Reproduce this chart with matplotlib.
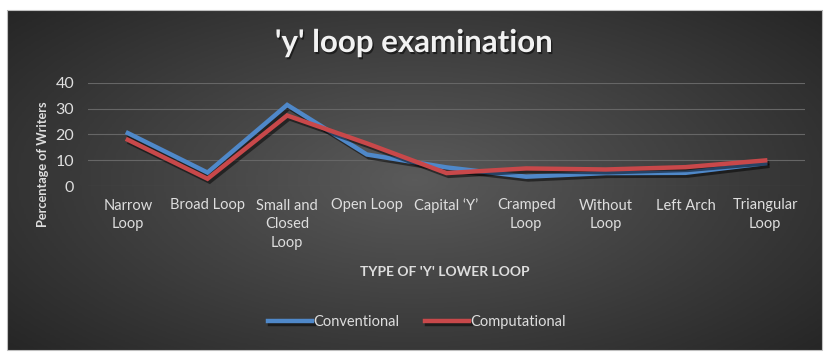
import numpy as np
import matplotlib
matplotlib.use("Agg")
import matplotlib.pyplot as plt
import matplotlib.patheffects as pe
from matplotlib.patches import Rectangle

plt.rcParams["font.family"] = ["Lato", "DejaVu Sans"]

# %% data
categories = ["Narrow\nLoop", "Broad Loop", "Small and\nClosed\nLoop", "Open Loop",
              "Capital \u2018Y\u2019", "Cramped\nLoop", "Without\nLoop", "Left Arch",
              "Triangular\nLoop"]
conventional = [20.5, 5.2, 31.4, 12.2, 7.2, 3.6, 5.0, 5.1, 8.8]
computational = [17.9, 2.8, 27.3, 16.5, 5.0, 6.8, 6.4, 7.3, 9.9]
yticks = [0, 10, 20, 30, 40]

blue = "#4f88c9"
red = "#c8484a"
txt = "#dedede"

# %% figure
fig = plt.figure(figsize=(8.3, 3.62), dpi=100, facecolor="white")

# dark panel with radial gradient
bg = fig.add_axes([7 / 830, 12 / 362, 815 / 830, 340 / 362])
yy, xx = np.mgrid[-1:1:200j, -1:1:400j]
r = np.sqrt((xx * 0.85) ** 2 + (yy * 0.75) ** 2)
bg.imshow(r, cmap=matplotlib.colors.LinearSegmentedColormap.from_list(
    "g", ["#5a5a5a", "#404040", "#262626"]), aspect="auto", extent=[0, 1, 0, 1])
bg.set_axis_off()
fig.patches.append(Rectangle((7 / 830, 12 / 362), 815 / 830, 340 / 362,
                             transform=fig.transFigure, fill=False,
                             ec="#bfbfbf", lw=0.8))

ax = fig.add_axes([88 / 830, (362 - 186) / 362, 717 / 830, 103.3 / 362])
ax.patch.set_alpha(0)
x = np.arange(len(categories))
ax.plot(x, conventional, color=blue, lw=3.2, solid_joinstyle="miter", label="Conventional",
        path_effects=[pe.SimpleLineShadow(offset=(1.5, -2), shadow_color="black", alpha=0.5), pe.Normal()])
ax.plot(x, computational, color=red, lw=3.2, solid_joinstyle="miter", label="Computational",
        path_effects=[pe.SimpleLineShadow(offset=(1.5, -2), shadow_color="black", alpha=0.5), pe.Normal()])

ax.set_xlim(-0.5, len(categories) - 0.5)
ax.set_ylim(0, 40)
ax.set_yticks(yticks)
ax.set_yticklabels([str(v) for v in yticks], color=txt, fontsize=11.5)
ax.set_xticks(x)
ax.set_xticklabels(categories, color=txt, fontsize=10.5, linespacing=1.45)
ax.tick_params(length=0, axis="y", pad=10)
ax.tick_params(length=0, axis="x", pad=9)
ax.grid(axis="y", color="#666666", lw=0.8)
ax.set_axisbelow(True)
for s in ax.spines.values():
    s.set_visible(False)

fig.text(43 / 830, 1 - 164 / 362, "Percentage of Writers", color=txt, fontsize=9.2,
         fontweight="bold", rotation=90, ha="center", va="center")
fig.text(445 / 830, 1 - 272 / 362, "TYPE OF 'Y' LOWER LOOP", color=txt, fontsize=10,
         fontweight="bold", ha="center", va="center")
fig.text(414 / 830, 1 - 43 / 362, "'y' loop examination", color="#f2f2f2", fontsize=22.5,
         fontweight="bold", ha="center", va="center",
         path_effects=[pe.withSimplePatchShadow(offset=(1, -1.5), shadow_rgbFace="black", alpha=0.5)])

leg = fig.legend(loc="center", bbox_to_anchor=(417 / 830, 1 - 322 / 362), ncols=2,
                 frameon=False, fontsize=10.5, handlelength=3.0, handletextpad=0.1,
                 columnspacing=1.8, labelcolor=txt)

fig.savefig("out.png", dpi=100, facecolor="white")
